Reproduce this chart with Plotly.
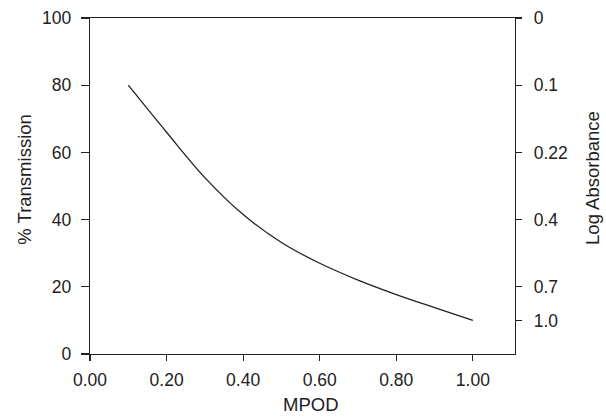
import plotly.graph_objects as go

# Data
mpod = [0.10, 0.20, 0.30, 0.40, 0.50, 0.60, 0.70, 0.80, 0.90, 1.00]
transmission = [80.0, 66.0, 52.5, 41.5, 33.2, 27.0, 22.0, 17.7, 13.8, 10.0]

x_tickvals = [0.0, 0.2, 0.4, 0.6, 0.8, 1.0]
x_ticktext = ["0.00", "0.20", "0.40", "0.60", "0.80", "1.00"]
y_tickvals = [0, 20, 40, 60, 80, 100]
y_ticktext = ["0", "20", "40", "60", "80", "100"]
abs_tickvals = [100, 80, 60, 40, 20, 10]
abs_ticktext = ["0", "0.1", "0.22", "0.4", "0.7", "1.0"]

x_title = "MPOD"
y_title = "% Transmission"
y2_title = "Log Absorbance"

FONT = "Liberation Sans, Arial, sans-serif"
INK = "#222222"
TICK_SIZE = 17.5
TITLE_SIZE = 18.5

fig = go.Figure()
fig.add_trace(go.Scatter(
    x=mpod, y=transmission, mode="lines",
    line=dict(color=INK, width=1.3, shape="spline", smoothing=1.0),
    showlegend=False, hoverinfo="skip",
))
# invisible trace to activate the right axis
fig.add_trace(go.Scatter(
    x=[mpod[0]], y=[transmission[0]], yaxis="y2", mode="markers",
    marker=dict(opacity=0), showlegend=False, hoverinfo="skip",
))

fig.update_layout(
    width=606, height=417,
    margin=dict(l=90, r=91, t=18, b=63),
    paper_bgcolor="white", plot_bgcolor="white",
    font=dict(family=FONT, size=TICK_SIZE, color=INK),
    xaxis=dict(
        range=[0, 1.11], tickvals=x_tickvals, ticktext=x_ticktext,
        showgrid=False, zeroline=False, automargin=False,
        showline=True, linecolor=INK, linewidth=1.2, mirror=True,
        ticks="outside", ticklen=6, tickwidth=1.2, tickcolor=INK,
        tickfont=dict(size=TICK_SIZE), ticklabelstandoff=4,
    ),
    yaxis=dict(
        range=[0, 100], tickvals=y_tickvals, ticktext=y_ticktext,
        showgrid=False, zeroline=False, automargin=False,
        showline=True, linecolor=INK, linewidth=1.2,
        ticks="outside", ticklen=8, tickwidth=1.2, tickcolor=INK,
        tickfont=dict(size=TICK_SIZE), ticklabelstandoff=6,
    ),
    yaxis2=dict(
        range=[0, 100], overlaying="y", side="right",
        tickvals=abs_tickvals, ticktext=abs_ticktext,
        showgrid=False, zeroline=False, automargin=False,
        showline=True, linecolor=INK, linewidth=1.2,
        ticks="outside", ticklen=6, tickwidth=1.2, tickcolor=INK,
        tickfont=dict(size=TICK_SIZE), ticklabelstandoff=8,
    ),
    annotations=[
        dict(text=x_title, xref="paper", yref="paper", x=0.52, y=-0.151,
             xanchor="center", yanchor="middle", showarrow=False,
             font=dict(size=TITLE_SIZE, color=INK)),
        dict(text=y_title, xref="paper", yref="paper", x=-0.155, y=0.519,
             xanchor="center", yanchor="middle", showarrow=False, textangle=-90,
             font=dict(size=TITLE_SIZE, color=INK)),
        dict(text=y2_title, xref="paper", yref="paper", x=1.1835, y=0.524,
             xanchor="center", yanchor="middle", showarrow=False, textangle=-90,
             font=dict(size=TITLE_SIZE, color=INK)),
    ],
)

fig.write_html(
    "out.html",
    config={"displayModeBar": False, "staticPlot": True},
    post_script="document.body.style.margin='0';document.body.style.overflow='hidden';",
)
